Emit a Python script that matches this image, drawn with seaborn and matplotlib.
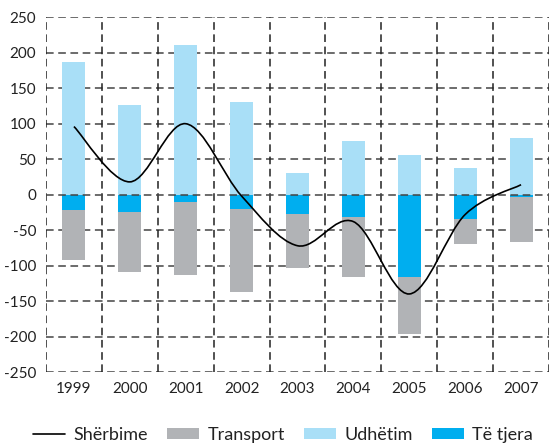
import numpy as np
import pandas as pd
import matplotlib
matplotlib.use("Agg")
import matplotlib.pyplot as plt
import seaborn as sns
from matplotlib.path import Path
from matplotlib.patches import PathPatch, Patch
from matplotlib.lines import Line2D

years = ["1999", "2000", "2001", "2002", "2003", "2004", "2005", "2006", "2007"]
udhetim = [187, 127, 211, 130, 31, 76, 56, 38, 80]
te_tjera = [-21, -24, -10, -20, -27, -31, -116, -35, -3]
transport = [-71, -85, -103, -117, -76, -85, -81, -34, -64]
sherbime = [96, 18, 100, -2, -72, -38, -140, -28, 14]

c_light = "#A9DFF7"
c_blue = "#00AEEF"
c_gray = "#B1B3B6"

sns.set_theme(style="white")
plt.rcParams["font.family"] = ["Lato", "DejaVu Sans"]
plt.rcParams["axes.unicode_minus"] = False

df = pd.DataFrame({
    "year": years,
    "udhetim": udhetim,
    "tjera": te_tjera,
    "lower": np.array(te_tjera) + np.array(transport),
})

fig = plt.figure(figsize=(5.49, 4.47), dpi=100)
ax = fig.add_axes([46 / 549, 1 - 372 / 447, 1 - 46 / 549, (372 - 17.3) / 447])

bw = 0.41
for col, colr in [("lower", c_gray), ("tjera", c_blue), ("udhetim", c_light)]:
    sns.barplot(data=df, x="year", y=col, color=colr, width=bw, ax=ax,
                saturation=1, zorder=2, order=years, linewidth=0, edgecolor="none")

# smooth line (cardinal spline through the data points)
xs = np.arange(len(sherbime), dtype=float)
ys = np.array(sherbime, dtype=float)
pts = np.column_stack([xs, ys])
verts = [tuple(pts[0])]
codes = [Path.MOVETO]
n = len(pts)
for i in range(n - 1):
    p0 = pts[max(i - 1, 0)]
    p1 = pts[i]
    p2 = pts[i + 1]
    p3 = pts[min(i + 2, n - 1)]
    c1 = p1 + (p2 - p0) / 6.0
    c2 = p2 - (p3 - p1) / 6.0
    verts += [tuple(c1), tuple(c2), tuple(p2)]
    codes += [Path.CURVE4] * 3
ax.add_patch(PathPatch(Path(verts, codes), facecolor="none", edgecolor="black",
                       lw=1.2, zorder=5))

ax.set_xlim(-0.5, 8.5)
ax.set_ylim(-250, 250)
ax.set_yticks(np.arange(-250, 251, 50))
ax.set_xlabel("")
ax.set_ylabel("")
for s in ax.spines.values():
    s.set_visible(False)

dash = (0, (5, 3))
for yv in np.arange(-250, 251, 50):
    ax.axhline(yv, color="#444444", lw=1.1, ls=dash, zorder=1 if yv != 0 else 4)
for xv in np.arange(-0.5, 8.6, 1.0):
    ax.axvline(xv, color="#222222", lw=1.1, ls=dash, zorder=1)

ax.tick_params(axis="both", length=0, labelsize=11, colors="#222222")
ax.tick_params(axis="y", pad=7)
ax.tick_params(axis="x", pad=7)

handles = [
    Line2D([0], [0], color="black", lw=1.2),
    Patch(facecolor=c_gray, edgecolor="none"),
    Patch(facecolor=c_light, edgecolor="none"),
    Patch(facecolor=c_blue, edgecolor="none"),
]
labels = ["Shërbime", "Transport", "Udhëtim", "Të tjera"]
fig.legend(handles, labels, loc="center", bbox_to_anchor=(283 / 549, 1 - 435 / 447),
           ncol=4, frameon=False, fontsize=13, handlelength=1.8, handleheight=0.5,
           handletextpad=0.45, columnspacing=1.05, borderaxespad=0, borderpad=0,
           labelcolor="#222222")

fig.savefig("out.png", dpi=100)
